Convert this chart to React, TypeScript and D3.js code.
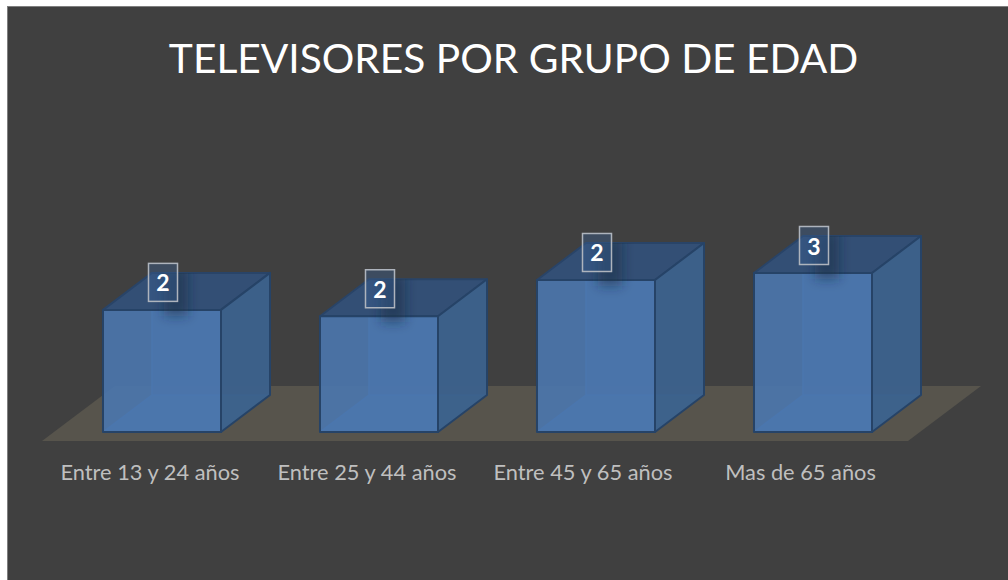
import React from "react";
import * as d3 from "d3";

const title = "TELEVISORES POR GRUPO DE EDAD";
const categories = ["Entre 13 y 24 años", "Entre 25 y 44 años", "Entre 45 y 65 años", "Mas de 65 años"];
const values = [1.92, 1.82, 2.39, 2.5];

const W = 1008, H = 580;
const baseY = 432;
const depthX = 49, depthY = 37;
const x = d3.scaleBand<string>().domain(categories).range([53.5, 921.5]).paddingInner(0.4562).paddingOuter(0.2281);
const y = d3.scaleLinear().domain([0, 2.5]).range([baseY, 273]);
const line = d3.line();
const labelOffsets = [-12, -12, -13, -12.5];

export default function App() {
  const bw = x.bandwidth();
  return (
    <svg width={W} height={H} viewBox={`0 0 ${W} ${H}`} style={{ position: "absolute", left: 0, top: 0, display: "block" }}
      fontFamily="Lato, 'Open Sans', sans-serif">
      <defs>
        <filter id="sh" x="-100%" y="-100%" width="300%" height="300%">
          <feGaussianBlur stdDeviation="6" />
        </filter>
        {categories.map((c, i) => {
          const x0 = x(c)!, t = y(values[i]);
          return (
            <clipPath id={`cube${i}`} key={c}>
              <path d={(line([[x0, t], [x0 + depthX, t - depthY], [x0 + bw, t - depthY], [x0 + bw, baseY], [x0, baseY]]) as string) + "Z"} />
            </clipPath>
          );
        })}
      </defs>
      <rect width={W} height={H} fill="#ffffff" />
      <rect x={7.5} y={6.5} width={W + 10} height={H + 10} fill="#404040" stroke="#7f7f7f" strokeWidth={1} />
      <text x={513.5} y={73} textAnchor="middle" fontSize={40.7} fill="#ffffff">{title}</text>
      <path d={(line([[42, 441], [908, 441], [981, 386], [115, 386]]) as string) + "Z"} fill="#57544c" />
      {categories.map((c, i) => {
        const x0 = x(c)!, x1 = x0 + bw, t = y(values[i]);
        const dx = depthX, dy = depthY;
        const face = (pts: [number, number][]) => (line(pts) as string) + "Z";
        const cx = x0 + bw / 2;
        const lw = 29, lh = 38;
        const ly = t - 27.5;
        return (
          <g key={c}>
            <path d={face([[x0 + dx, t - dy], [x1 + dx, t - dy], [x1 + dx, baseY - dy], [x0 + dx, baseY - dy]])} fill="#3f6699" fillOpacity={0.75} />
            <path d={face([[x0, baseY], [x0 + dx, baseY - dy], [x1 + dx, baseY - dy], [x1, baseY]])} fill="#4a77b2" fillOpacity={0.8} />
            <path d={face([[x0 + dx, t - dy], [x0 + dx, baseY - dy]])} fill="none" stroke="#4070ad" strokeWidth={1.5} />
            <path d={face([[x0 + dx, baseY - dy], [x1 + dx, baseY - dy]])} fill="none" stroke="#4070ad" strokeWidth={1} />
            <path d={face([[x0, baseY], [x0 + dx, baseY - dy]])} fill="none" stroke="#4070ad" strokeWidth={1.5} />
            <path d={face([[x0, t], [x0 + dx, t - dy], [x1 + dx, t - dy], [x1, t]])} fill="#334f75" stroke="#294468" strokeWidth={2} strokeLinejoin="round" />
            <path d={face([[x1, t], [x1 + dx, t - dy], [x1 + dx, baseY - dy], [x1, baseY]])} fill="#3c6089" fillOpacity={0.9} stroke="#264367" strokeWidth={2} strokeLinejoin="round" />
            <path d={face([[x0, t], [x1, t], [x1, baseY], [x0, baseY]])} fill="#4b77ae" fillOpacity={0.9} stroke="#264367" strokeWidth={2} strokeLinejoin="round" />
            <g clipPath={`url(#cube${i})`}>
              <rect x={cx + 2} y={t - 42} width={24} height={48} fill="#1c2c44" fillOpacity={0.5} filter="url(#sh)" />
            </g>
            <rect x={cx - lw / 2 + 1} y={ly - lh / 2} width={lw} height={lh} fill="#3a5f91" fillOpacity={0.4} stroke="#aeb4bd" strokeWidth={1.5} />
            <text x={cx + 1} y={ly + 9} textAnchor="middle" fontSize={23} fontWeight={700} fill="#ffffff">
              {Math.round(values[i])}
            </text>
            <text x={cx + labelOffsets[i]} y={480} textAnchor="middle" fontSize={21.8} fill="#bfbfbf">{c}</text>
          </g>
        );
      })}
    </svg>
  );
}
